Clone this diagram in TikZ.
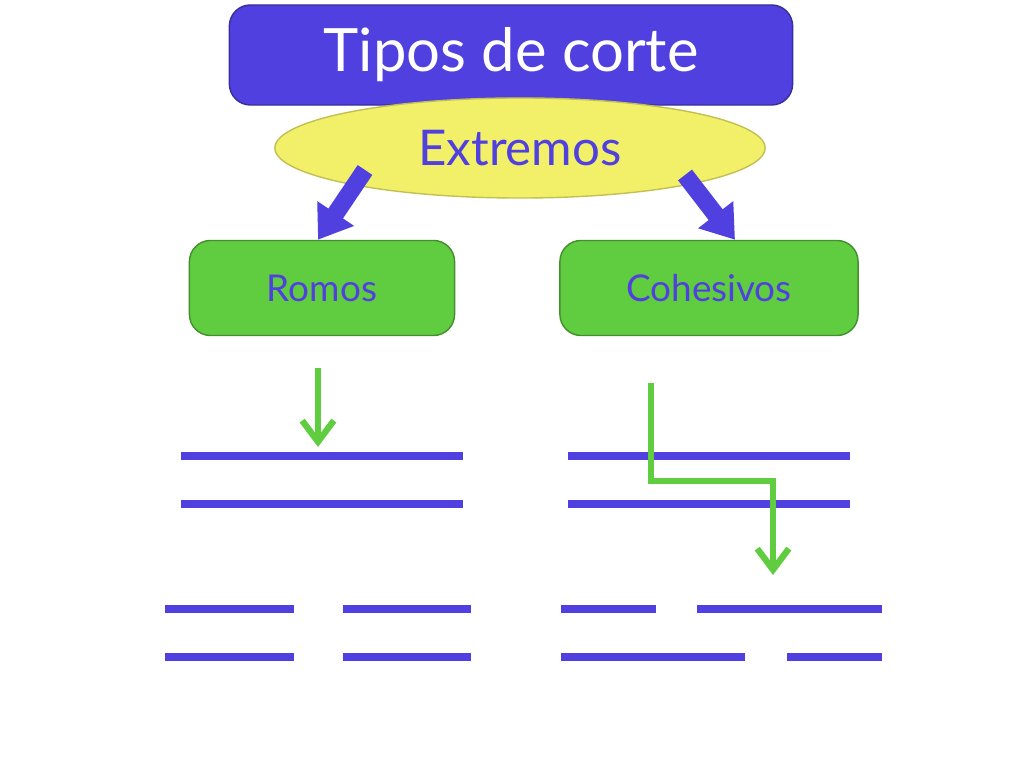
\documentclass[tikz,border=0pt]{standalone}
\usepackage{fontspec}
\setmainfont{Lato}
\usetikzlibrary{shapes.geometric,arrows.meta}
\definecolor{violeta}{HTML}{5040E0}
\definecolor{verde}{HTML}{60CC40}
\definecolor{amarillo}{HTML}{F2F068}
\tikzset{caja/.style={rounded corners=6pt, fill=verde, draw=verde!70!black, text=violeta},
  bigarrow/.style={line width=5pt, draw=violeta, -{Triangle[width=12pt,length=9pt]}},
  barra/.style={line width=2.3pt, draw=violeta},
  corte/.style={line width=1.8pt, draw=verde, -{Straight Barb[width=9pt,length=6pt]}}}
\begin{document}
\begin{tikzpicture}[x=0.01cm, y=-0.01cm]
\useasboundingbox (0,0) rectangle (1024,768);
\node[rounded corners=6pt, fill=violeta, draw=violeta!70!black, minimum width=5.63cm, minimum height=1cm, text=white, font=\fontsize{17}{20}\selectfont] (tipos) at (511,55) {Tipos de corte};
\node[ellipse, fill=amarillo, draw=amarillo!80!black, minimum width=4.9cm, minimum height=1cm, text=violeta, font=\fontsize{14}{17}\selectfont] (ext) at (520,148) {Extremos};
\node[caja, minimum width=2.65cm, minimum height=0.95cm, font=\fontsize{10.5}{12}\selectfont] (romos) at (322,288) {Romos};
\node[caja, minimum width=2.98cm, minimum height=0.95cm, font=\fontsize{10.5}{12}\selectfont] (cohes) at (709,288) {Cohesivos};
\draw[bigarrow] (365,170) -- (romos.north -| 318,0);
\draw[bigarrow] (685,175) -- (cohes.north -| 735,0);
% lineas
\foreach \y in {456,504} {
  \draw[barra] (181,\y) -- (463,\y);
  \draw[barra] (568,\y) -- (850,\y);
}
\foreach \y in {609,657} {
  \draw[barra] (165,\y) -- (294,\y);
  \draw[barra] (343,\y) -- (471,\y);
}
\draw[barra] (561,609) -- (656,609);
\draw[barra] (697,609) -- (882,609);
\draw[barra] (561,657) -- (745,657);
\draw[barra] (787,657) -- (882,657);
% cortes
\coordinate (a0) at (318,368);
\coordinate (a1) at (318,447);
\draw[corte] (a0) -- (a1);
\coordinate (b0) at (651,383);
\coordinate (b1) at (773,575);
\draw[corte] (b0) |- (773,481) -- (b1);
\end{tikzpicture}
\end{document}
